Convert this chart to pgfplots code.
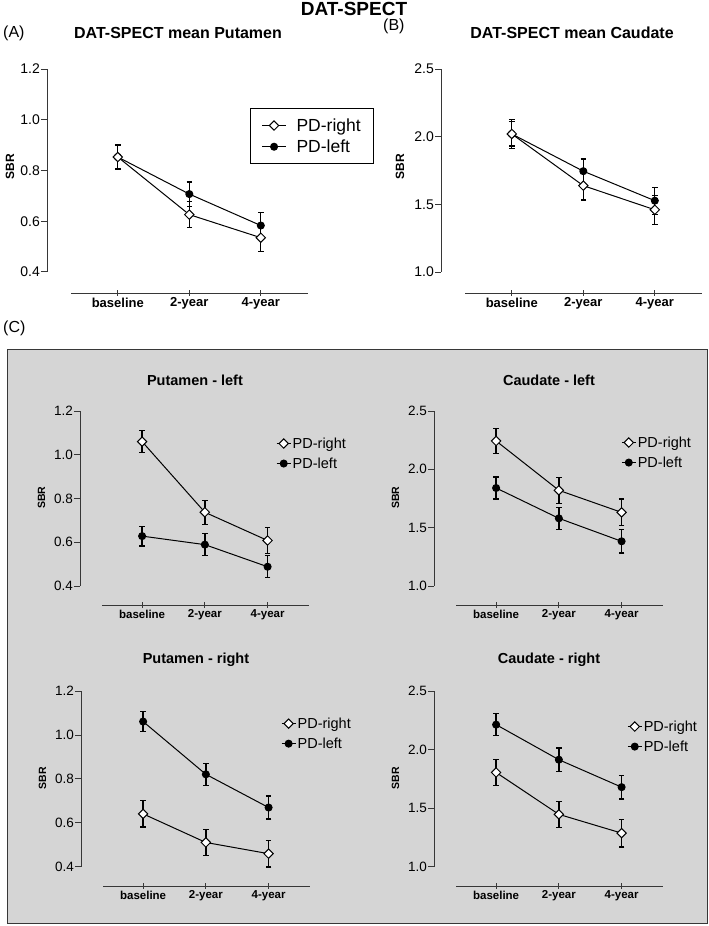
\documentclass[border=0pt]{standalone}
\usepackage{fontspec}
\setmainfont{Liberation Sans}
\usepackage{pgfplots}
\pgfplotsset{compat=1.18}
\definecolor{panelgray}{RGB}{213,213,213}
\definecolor{axgray}{RGB}{55,55,55}

\pgfplotsset{
  dat/.style={
    scale only axis, anchor=south west, clip=false,
    axis x line=bottom, axis y line=left,
    axis line style={-, line width=0.9bp, draw=axgray},
    xmin=-0.99, xmax=2.66,
    xtick={0,1,2}, xticklabels={baseline,2-year,4-year},
    xtick align=center, ytick align=outside,
    major tick length=6bp,
    every tick/.style={axgray, line width=0.9bp},
    /pgf/number format/assume math mode=true,
    yticklabel style={inner sep=1bp},
    xticklabel style={inner sep=1.5bp},
    minor tick num=0,
    every axis title/.style={at={(axis description cs:0.502,1.16)}, anchor=center, font=\bfseries},
    every axis y label/.style={at={(axis description cs:-0.15,0.56)}, rotate=90, anchor=center, font=\bfseries},
    legend cell align=left,
    reverse legend,
  },
  putaxis/.style={ytick={0.4,0.6,0.8,1.0,1.2}, yticklabels={0.4,0.6,0.8,1.0,1.2}},
  caudaxis/.style={ytick={1.0,1.5,2.0,2.5}, yticklabels={1.0,1.5,2.0,2.5}},
  topax/.style={dat, width=261bp, height=224bp,
    x axis line style={shorten <=24bp}, y axis line style={shorten <=21bp},
    title style={font=\bfseries\fontsize{16bp}{18bp}\selectfont},
    ylabel style={font=\bfseries\fontsize{12bp}{14bp}\selectfont},
    yticklabel style={font=\fontsize{14bp}{16bp}\selectfont},
    xticklabel style={font=\bfseries\fontsize{13bp}{15bp}\selectfont},
  },
  cax/.style={dat, width=229bp, height=194bp,
    x axis line style={shorten <=22bp}, y axis line style={shorten <=19bp},
    title style={font=\bfseries\fontsize{14.5bp}{16bp}\selectfont},
    ylabel style={font=\bfseries\fontsize{10.5bp}{12bp}\selectfont},
    yticklabel style={font=\fontsize{13.5bp}{15bp}\selectfont},
    xticklabel style={font=\bfseries\fontsize{11.5bp}{13bp}\selectfont},
    legend style={anchor=north west, draw=none, fill=none, inner sep=0bp,
      font=\fontsize{14.5bp}{16bp}\selectfont, row sep=5bp, nodes={inner sep=1.5bp}},
    legend image code/.code={\draw[mark repeat=2,mark phase=2,##1] plot coordinates {(0bp,0bp) (7bp,0bp) (14bp,0bp)};},
  },
  pdleft/.style={black, line width=1bp, mark=*, mark size=3.5bp, mark options={fill=black, solid},
    error bars/y dir=both, error bars/y explicit,
    error bars/error bar style={line width=1.3bp, black},
    error bars/error mark options={rotate=90, line width=1.3bp, mark size=2.8bp, black}},
  pdright/.style={black, line width=1bp, mark=square*, mark size=3.3bp, mark options={fill=white, rotate=45, solid},
    error bars/y dir=both, error bars/y explicit,
    error bars/error bar style={line width=1.3bp, black},
    error bars/error mark options={rotate=90, line width=1.3bp, mark size=2.8bp, black}},
}

\begin{document}
\begin{tikzpicture}
\useasboundingbox (0,0) rectangle (709bp,926bp);
\filldraw[fill=panelgray, draw=axgray, line width=1bp] (7bp,2bp) rectangle (707bp,576bp);

\node[inner sep=0pt, font=\bfseries\fontsize{19bp}{21bp}\selectfont] at (354bp,917.5bp) {DAT-SPECT};
\node[anchor=west, inner sep=0pt, font=\fontsize{16bp}{18bp}\selectfont] at (3bp,893bp) {(A)};
\node[anchor=west, inner sep=0pt, font=\fontsize{16bp}{18bp}\selectfont] at (383bp,900bp) {(B)};
\node[anchor=west, inner sep=0pt, font=\fontsize{16bp}{18bp}\selectfont] at (3bp,598bp) {(C)};

% (A)
\begin{axis}[topax, putaxis, at={(47bp,633bp)},
  ymin=0.317, ymax=1.2,
  title={DAT-SPECT mean Putamen},
  ylabel={SBR}, ylabel style={at={(axis description cs:-0.142,0.5625)}},
  legend style={at={(axis description cs:0.778,0.826)}, anchor=north west, draw=black, line width=1bp, fill=white,
    inner xsep=11bp, inner ysep=8bp, font=\fontsize{17.5bp}{19bp}\selectfont, row sep=3bp, nodes={inner sep=2bp},
    /tikz/every odd column/.append style={column sep=8bp}},
  legend image code/.code={\draw[mark repeat=2,mark phase=2,#1] plot coordinates {(0bp,0bp) (12bp,0bp) (24bp,0bp)};},
]
\addplot[pdleft] table[x=x, y=y, y error=e] {
x y e
0 0.853 0.045
1 0.707 0.048
2 0.583 0.050
};
\addlegendentry{PD-left}
\addplot[pdright] table[x=x, y=y, y error=e] {
x y e
0 0.853 0.050
1 0.626 0.052
2 0.535 0.055
};
\addlegendentry{PD-right\hspace{7bp}}
\end{axis}

% (B)
\begin{axis}[topax, caudaxis, at={(441bp,633bp)},
  ymin=0.845, ymax=2.5,
  title={DAT-SPECT mean Caudate},
  ylabel={SBR}, ylabel style={at={(axis description cs:-0.157,0.5625)}},
]
\addplot[pdleft] table[x=x, y=y, y error=e] {
x y e
0 2.020 0.090
1 1.745 0.090
2 1.527 0.100
};
\addplot[pdright] table[x=x, y=y, y error=e] {
x y e
0 2.020 0.105
1 1.638 0.107
2 1.460 0.107
};
\end{axis}

% (C) Putamen - left
\begin{axis}[cax, putaxis, at={(80bp,321bp)},
  ymin=0.313, ymax=1.2,
  title={Putamen - left},
  ylabel={SBR}, ylabel style={at={(axis description cs:-0.168,0.553)}},
  legend style={at={(axis description cs:0.856,0.872)}},
]
\addplot[pdleft] table[x=x, y=y, y error=e] {
x y e
0 0.628 0.045
1 0.589 0.050
2 0.488 0.050
};
\addlegendentry{PD-left}
\addplot[pdright] table[x=x, y=y, y error=e] {
x y e
0 1.060 0.050
1 0.737 0.055
2 0.608 0.060
};
\addlegendentry{PD-right}
\end{axis}

% (C) Caudate - left
\begin{axis}[cax, caudaxis, at={(434bp,321bp)},
  ymin=0.837, ymax=2.5,
  title={Caudate - left},
  ylabel={SBR}, ylabel style={at={(axis description cs:-0.168,0.553)}},
  legend style={at={(axis description cs:0.817,0.877)}},
]
\addplot[pdleft] table[x=x, y=y, y error=e] {
x y e
0 1.840 0.095
1 1.580 0.095
2 1.383 0.100
};
\addlegendentry{PD-left}
\addplot[pdright] table[x=x, y=y, y error=e] {
x y e
0 2.243 0.107
1 1.820 0.110
2 1.631 0.115
};
\addlegendentry{PD-right}
\end{axis}

% (C) Putamen - right
\begin{axis}[cax, putaxis, at={(81bp,40bp)}, height=195bp,
  ymin=0.313, ymax=1.2,
  title={Putamen - right},
  ylabel={SBR}, ylabel style={at={(axis description cs:-0.168,0.554)}},
  legend style={at={(axis description cs:0.873,0.872)}},
]
\addplot[pdleft] table[x=x, y=y, y error=e] {
x y e
0 1.061 0.045
1 0.821 0.050
2 0.670 0.052
};
\addlegendentry{PD-left}
\addplot[pdright] table[x=x, y=y, y error=e] {
x y e
0 0.641 0.060
1 0.511 0.060
2 0.460 0.060
};
\addlegendentry{PD-right}
\end{axis}

% (C) Caudate - right
\begin{axis}[cax, caudaxis, at={(434bp,40bp)}, height=195bp,
  ymin=0.837, ymax=2.5,
  title={Caudate -  right},
  ylabel={SBR}, ylabel style={at={(axis description cs:-0.168,0.554)}},
  legend style={at={(axis description cs:0.843,0.857)}},
]
\addplot[pdleft] table[x=x, y=y, y error=e] {
x y e
0 2.213 0.095
1 1.914 0.100
2 1.680 0.100
};
\addlegendentry{PD-left}
\addplot[pdright] table[x=x, y=y, y error=e] {
x y e
0 1.805 0.110
1 1.448 0.110
2 1.288 0.118
};
\addlegendentry{PD-right}
\end{axis}
\end{tikzpicture}
\end{document}
